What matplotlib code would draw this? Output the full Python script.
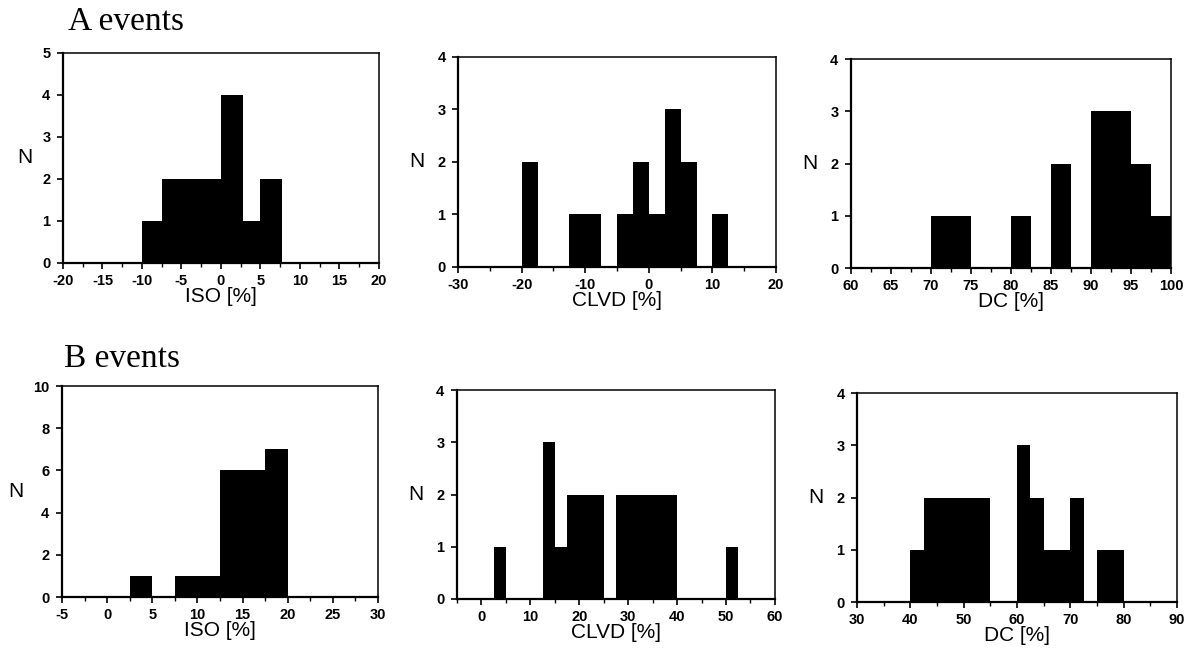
import matplotlib

matplotlib.use("Agg")
import matplotlib.pyplot as plt
from matplotlib.ticker import MultipleLocator

plt.rcParams['font.family'] = ['Liberation Sans', 'DejaVu Sans']
plt.rcParams['axes.unicode_minus'] = False

# A events: bin edges and counts per moment-tensor component
a_iso_edges = [-10, -7.5, -5, -2.5, 0, 2.75, 5, 7.75]
a_iso_counts = [1, 2, 2, 2, 4, 1, 2]

a_clvd_edges = [-20, -17.5, -15, -12.5, -10, -7.5, -5, -2.5, 0, 2.5, 5, 7.5, 10, 12.5]
a_clvd_counts = [2, 0, 0, 1, 1, 0, 1, 2, 1, 3, 2, 0, 1]

a_dc_edges = [70, 72.5, 75, 77.5, 80, 82.5, 85, 87.5, 90, 92.5, 95, 97.5, 100]
a_dc_counts = [1, 1, 0, 0, 1, 0, 2, 0, 3, 3, 2, 1]

# B events
b_iso_edges = [2.5, 5, 7.5, 10, 12.5, 15, 17.5, 20]
b_iso_counts = [1, 0, 1, 1, 6, 6, 7]

b_clvd_edges = [2.5, 5, 7.5, 10, 12.5, 15, 17.5, 20, 22.5, 25, 27.5, 30, 32.5,
                35, 37.5, 40, 42.5, 45, 47.5, 50, 52.5]
b_clvd_counts = [1, 0, 0, 0, 3, 1, 2, 2, 2, 0, 2, 2, 2, 2, 2, 0, 0, 0, 0, 1]

b_dc_edges = [40, 42.5, 45, 47.5, 50, 52.5, 55, 57.5, 60, 62.5, 65, 67.5, 70,
              72.5, 75, 77.5, 80]
b_dc_counts = [1, 2, 2, 2, 2, 2, 0, 0, 3, 2, 1, 1, 2, 0, 1, 1]

# (edges, counts, xlabel, xlim, xstep, ymax, ystep)
panels = [
    (a_iso_edges, a_iso_counts, 'ISO [%]', (-20, 20), 5, 5, 1),
    (a_clvd_edges, a_clvd_counts, 'CLVD [%]', (-30, 20), 10, 4, 1),
    (a_dc_edges, a_dc_counts, 'DC [%]', (60, 100), 5, 4, 1),
    (b_iso_edges, b_iso_counts, 'ISO [%]', (-5, 30), 5, 10, 2),
    (b_clvd_edges, b_clvd_counts, 'CLVD [%]', (-5, 60), 10, 4, 1),
    (b_dc_edges, b_dc_counts, 'DC [%]', (30, 90), 10, 4, 1),
]

# axes rectangles in figure fraction, plus N-label x offset in axes fraction
boxes = [
    ([0.0529, 0.5985, 0.2655, 0.3206], -0.12),
    ([0.3849, 0.5924, 0.2672, 0.3206], -0.13),
    ([0.7151, 0.5908, 0.2689, 0.3190], -0.128),
    ([0.0521, 0.0885, 0.2655, 0.3221], -0.146),
    ([0.3840, 0.0855, 0.2672, 0.3190], -0.13),
    ([0.7202, 0.0809, 0.2689, 0.3190], -0.128),
]

fig = plt.figure(figsize=(11.9, 6.55), dpi=100)

for (edges, counts, xlabel, xlim, xstep, ymax, ystep), (rect, nx) in zip(panels, boxes):
    ax = fig.add_axes(rect)
    ax.stairs(counts, edges, fill=True, color='black', linewidth=0)
    ax.set_xlim(*xlim)
    ax.set_ylim(0, ymax)
    ax.xaxis.set_major_locator(MultipleLocator(xstep))
    ax.xaxis.set_minor_locator(MultipleLocator(xstep / 2))
    ax.yaxis.set_major_locator(MultipleLocator(ystep))

    for side in ['left', 'bottom']:
        ax.spines[side].set_linewidth(1.6)
    for side in ['top', 'right']:
        ax.spines[side].set_linewidth(1.1)

    ax.tick_params(axis='both', which='major', direction='out', length=4, width=1.2,
                   labelsize=10.5)
    ax.tick_params(axis='x', which='major', pad=4)
    ax.tick_params(axis='y', which='major', pad=5)
    ax.tick_params(axis='x', which='minor', direction='out', length=3, width=1.0)
    for lab in ax.get_xticklabels() + ax.get_yticklabels():
        lab.set_fontweight('bold')

    ax.set_xlabel(xlabel, fontsize=15, labelpad=-1)
    ax.set_ylabel('N', fontsize=15, rotation=0, va='center', ha='center')
    ax.yaxis.set_label_coords(nx, 0.5)

fig.text(0.057, 0.954, 'A events', fontsize=24, family='Liberation Serif', va='baseline')
fig.text(0.054, 0.4397, 'B events', fontsize=24, family='Liberation Serif', va='baseline')

fig.savefig('out.png', dpi=100)
